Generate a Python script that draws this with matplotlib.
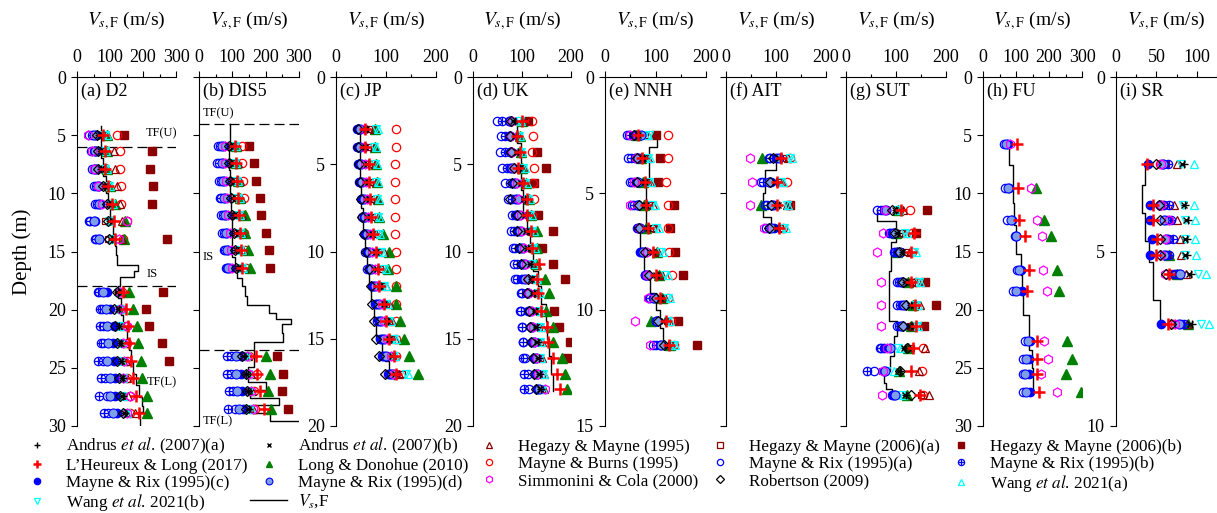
import numpy as np
import matplotlib
matplotlib.use("Agg")
import matplotlib.pyplot as plt
from matplotlib.lines import Line2D
from matplotlib.path import Path
from matplotlib.ticker import MultipleLocator, NullFormatter

plt.rcParams["font.family"] = ["Liberation Serif", "DejaVu Serif"]
plt.rcParams["mathtext.fontset"] = "stix"

nan = np.nan

# column order of every *_VS table below
COLS = ["RixA", "RixB", "RixC", "RixD", "Sim", "Rob", "AndA", "AndB",
        "Heg95", "Heg06a", "Heg06b", "LH", "Long", "Burns", "WangA", "WangB"]

LABELS = {
    "AndA": r"Andrus $\mathit{et\ al}$. (2007)(a)",
    "AndB": r"Andrus $\mathit{et\ al}$. (2007)(b)",
    "Heg95": "Hegazy & Mayne (1995)",
    "Heg06a": "Hegazy & Mayne (2006)(a)",
    "Heg06b": "Hegazy & Mayne (2006)(b)",
    "LH": "L\u2019Heureux & Long (2017)",
    "Long": "Long & Donohue (2010)",
    "Burns": "Mayne & Burns (1995)",
    "RixA": "Mayne & Rix (1995)(a)",
    "RixB": "Mayne & Rix (1995)(b)",
    "RixC": "Mayne & Rix (1995)(c)",
    "RixD": "Mayne & Rix (1995)(d)",
    "Sim": "Simmonini & Cola (2000)",
    "Rob": "Robertson (2009)",
    "WangA": r"Wang $\mathit{et\ al}$. 2021(a)",
    "WangB": r"Wang $\mathit{et\ al}$. 2021(b)",
}

# ---------------- (a) D2 ----------------
D2_DEPTH = [5.0, 6.4, 7.9, 9.4, 10.9, 12.4, 13.9, 18.5, 19.9, 21.4, 22.9, 24.4, 25.9, 27.4, 28.9]
D2_VS = [
    [37, 45, 58, 52, 34, 62, 68, 65, 88, 75, 141, 80, 90, 122, 92, 85],
    [42, 50, 58, 55, 44, 65, 72, 70, 113, 80, 228, 85, 90, 131, 88, 84],
    [44, 52, 58, 56, 50, 65, 74, 72, 114, 82, 222, 86, 92, 130, 90, 86],
    [50, 58, 66, 63, 65, 78, 86, 84, 122, 90, 231, 95, 100, 132, 100, 96],
    [55, 62, 70, 67, 75, 90, 98, 96, 130, 100, 228, 105, 115, 133, 108, 104],
    [36, 38, 55, 50, 150, 95, 100, 98, 135, 85, nan, 112, 145, 152, 100, 98],
    [55, 58, 68, 66, 128, 98, 105, 100, 135, 95, 272, 115, 142, 138, 110, 108],
    [68, 64, 92, 80, 130, 120, 125, 122, 132, 125, 262, 140, 159, 135, 128, 126],
    [75, 70, 100, 88, 130, 112, 128, 125, 135, 128, 208, 148, 171, 135, 132, 130],
    [78, 70, 112, 92, 150, 115, 128, 126, 140, 130, 218, 155, 181, 148, 130, 128],
    [80, 72, 108, 95, 140, 122, 132, 130, 145, 135, 259, 158, 184, 150, 135, 133],
    [80, 65, 112, 92, 142, 120, 135, 132, 148, 138, 280, 164, 193, 150, 136, 134],
    [85, 72, 115, 100, 140, 128, 138, 135, 150, 140, nan, 169, 196, 152, 140, 138],
    [90, 66, 115, 100, 162, 130, 138, 136, 155, 140, nan, 179, 213, 160, 138, 136],
    [95, 82, 122, 108, 150, 138, 145, 142, 175, 148, nan, 189, 211, 162, 150, 148],
]
D2_LAYER_Z = [4.2, 5.5, 7.0, 8.5, 10.0, 10.6, 12.0, 13.5, 14.5, 15.3, 16.2, 16.7, 17.2,
              18.0, 19.0, 20.5, 21.5, 22.5, 23.5, 24.5, 25.5, 26.5, 27.5, 28.3, 28.8, 30.0]
D2_LAYER_V = [72, 72, 80, 88, 95, 100, 108, 115, 118, 122, 184, 173, 130,
              125, 132, 140, 150, 158, 165, 170, 178, 188, 196, 199, 191]

# ---------------- (b) DIS5 ----------------
DIS5_DEPTH = [5.9, 7.4, 8.9, 10.4, 11.9, 13.4, 14.9, 16.4, 24.0, 25.5, 27.0, 28.5]
DIS5_VS = [
    [57, 62, 75, 70, 78, 90, 95, 93, 115, 100, 149, 108, 110, 128, 112, 108],
    [55, 60, 72, 68, 78, 90, 95, 93, 118, 102, 164, 110, 112, 128, 112, 108],
    [60, 65, 76, 72, 82, 93, 98, 96, 122, 106, 170, 114, 118, 132, 118, 114],
    [62, 67, 78, 74, 84, 96, 102, 100, 126, 110, 182, 118, 122, 135, 122, 118],
    [67, 72, 82, 78, 88, 100, 106, 104, 128, 112, 185, 120, 137, 132, 124, 120],
    [70, 74, 85, 80, 92, 105, 110, 108, 130, 115, 202, 122, 138, 135, 126, 122],
    [74, 78, 88, 84, 95, 108, 112, 110, 132, 118, 209, 125, 147, 138, 128, 124],
    [80, 84, 92, 88, 100, 112, 118, 116, 135, 122, 212, 130, 152, 140, 132, 128],
    [95, 84, 125, 110, 145, 130, 135, 133, 148, 138, 235, 170, 200, 150, 142, 140],
    [97, 84, 125, 112, 150, 140, 142, 140, 155, 145, 253, 174, 212, 174, 148, 146],
    [102, 90, 130, 115, 155, 145, 148, 146, 160, 150, 250, 184, 208, 165, 152, 150],
    [108, 88, 132, 120, 162, 142, 150, 148, 162, 152, 266, 194, 217, 168, 155, 153],
]
DIS5_LAYER_Z = [4.0, 6.0, 8.0, 10.0, 12.0, 14.0, 15.5, 16.5, 17.3, 18.0, 18.8, 19.6, 20.3,
                20.8, 21.2, 22.0, 22.8, 24.9, 26.2, 26.9, 27.6, 28.2, 28.9, 29.6, 30.0]
DIS5_LAYER_V = [92, 90, 92, 95, 98, 100, 108, 115, 128, 137, 145, 210, 232,
                275, 248, 253, 165, 147, 202, 152, 240, 162, 214, 330]

# ---------------- (c) JP ----------------
JP_DEPTH = [3, 4, 5, 6, 7, 8, 9, 10, 11, 12, 13, 14, 15, 16, 17]
JP_VS = [
    [42, 44, 44, 48, 55, 44, 62, 60, 75, 65, nan, 58, 78, 119, 83, 80],
    [42, 44, 45, 48, 55, 44, 60, 58, 76, 63, nan, 58, 78, 119, 80, 76],
    [44, 46, 46, 50, 58, 46, 63, 61, 78, 66, nan, 65, 80, 118, 82, 78],
    [46, 48, 48, 52, 60, 48, 65, 63, 80, 68, nan, 65, 82, 118, 84, 80],
    [50, 52, 52, 56, 62, 50, 67, 65, 82, 70, nan, 67, 84, 118, 85, 82],
    [52, 55, 55, 58, 64, 52, 70, 68, 84, 72, nan, 69, 86, 118, 86, 83],
    [55, 58, 58, 62, 68, 56, 75, 72, 88, 76, nan, 73, 93, 118, 88, 86],
    [58, 62, 62, 66, 72, 60, 82, 80, 95, 84, nan, 80, 106, 119, 92, 90],
    [62, 65, 66, 70, 78, 66, 84, 82, 100, 88, nan, 83, 104, 119, 100, 95],
    [72, 74, 74, 78, 82, 69, 90, 88, 100, 92, nan, 85, 120, 119, 100, 96],
    [78, 80, 82, 86, 92, 72, 98, 96, 105, 100, nan, 95, 120, 119, 104, 100],
    [82, 85, 86, 90, 96, 75, 104, 102, 112, 105, nan, 100, 127, 119, 110, 106],
    [88, 90, 92, 96, 102, 80, 108, 106, 118, 112, nan, 105, 136, 119, 120, 116],
    [92, 94, 96, 100, 110, 86, 115, 112, 118, 114, nan, 116, 145, 119, 118, 115],
    [104, 106, 108, 112, 116, 98, 120, 118, 125, 131, nan, 119, 163, 119, 143, 140],
]
JP_LAYER_Z = [3.0, 6.3, 7.5, 9.0, 10.0, 11.0, 12.0, 13.0, 14.0, 15.0, 15.8, 16.3, 16.8, 17.3]
JP_LAYER_V = [47, 50, 53, 58, 61, 66, 70, 75, 80, 91, 98, 105, 115]

# ---------------- (d) UK ----------------
UK_DEPTH = [2.5, 3.4, 4.3, 5.2, 6.1, 7.0, 7.9, 8.8, 9.8, 10.7, 11.6, 12.4, 13.4, 14.3, 15.2, 16.1, 17.0, 17.9]
UK_VS = [
    [50, 60, 73, 76, 80, 78, 85, 82, 105, 110, 112, 100, 100, 120, 98, 95],
    [57, 65, 73, 76, 78, 75, 88, 85, 96, 92, nan, 90, 96, 122, 96, 94],
    [56, 66, 75, 78, 80, 78, 92, 90, 100, 95, 131, 95, 98, 120, 100, 98],
    [59, 70, 76, 80, 84, 83, 96, 94, 104, 98, 149, 92, 100, 124, 106, 102],
    [66, 75, 83, 86, 90, 80, 100, 98, 108, 102, 124, 102, 108, 122, 110, 106],
    [71, 80, 86, 90, 94, 75, 106, 104, 112, 108, nan, 110, 114, 124, 116, 112],
    [80, 86, 88, 94, 98, 90, 108, 106, 118, 112, 132, 110, 118, 120, 120, 116],
    [78, 84, 90, 96, 100, 90, 110, 108, 120, 115, 163, 118, 130, nan, 124, 120],
    [82, 86, 96, 100, 104, 93, 112, 110, 122, 118, 141, 120, 130, nan, 126, 122],
    [83, 90, 100, 104, 108, 97, 118, 116, 124, 120, 163, 134, 128, nan, 124, 120],
    [86, 90, 100, 106, 112, 112, 120, 118, 126, 124, 188, 130, 146, nan, 130, 127],
    [97, 100, 110, 112, 115, 110, 125, 122, 132, 128, nan, 132, 156, nan, 136, 132],
    [96, 97, 112, 116, 120, 114, 128, 126, 136, 132, 165, 138, 148, nan, 136, 134],
    [100, 100, 120, 118, 122, 117, 130, 128, 140, 135, 175, 150, 163, nan, 139, 137],
    [102, 102, 120, 124, 126, 119, 132, 130, 140, 136, 197, 154, 164, nan, 138, 136],
    [106, 103, 124, 128, 130, 122, 135, 133, 140, 137, 192, 163, 182, nan, 139, 137],
    [112, 105, 126, 130, 132, 124, 137, 135, 145, 140, nan, 171, 188, nan, 144, 142],
    [114, 105, 130, 134, 146, 128, 138, 136, 145, 140, nan, 177, 192, nan, 142, 140],
]
UK_LAYER_Z = [2.5, 3.8, 6.5, 8.0, 9.0, 10.0, 11.1, 12.0, 13.0, 14.0, 15.0, 16.0, 17.0, 18.0]
UK_LAYER_V = [90, 97, 103, 110, 117, 122, 133, 138, 148, 152, 156, 160, 164]

# ---------------- (e) NNH ----------------
NNH_DEPTH = [2.5, 3.5, 4.5, 5.5, 6.5, 7.5, 8.5, 9.5, 10.5, 11.5]
NNH_VS = [
    [43, 48, 57, 72, 50, 58, 68, 66, 85, 80, 101, 66, 62, 124, 85, 88],
    [45, 52, 60, 66, 62, 64, 78, 75, 85, 82, 109, 73, 72, 124, 90, 86],
    [50, 54, 62, 65, 57, 64, 82, 80, 90, 85, 104, 79, 75, 121, 92, 88],
    [53, 58, 64, 66, 50, 68, 84, 82, 96, 88, 137, 81, 78, 124, 99, 94],
    [64, 66, 66, 70, 68, 68, 88, 86, 100, 95, 128, 86, 82, 124, 106, 100],
    [72, 74, 70, 76, 84, 80, 96, 94, 105, 100, 139, 95, 103, 126, 115, 110],
    [80, 82, 80, 84, 84, 88, 102, 100, 112, 108, 154, 101, 107, 132, 124, 118],
    [88, 90, 96, 98, 86, 100, 110, 108, 118, 115, nan, 109, 112, 125, 128, 124],
    [100, 102, 100, 102, 60, 104, 118, 116, 126, 122, 144, 121, 91, 130, 128, 125],
    [95, 100, 108, 110, 89, 117, 124, 122, 132, 130, 182, 126, 129, 136, 139, 136],
]
NNH_LAYER_Z = [2.5, 3.0, 4.6, 6.4, 7.6, 8.7, 9.3, 10.0, 10.8, 11.5]
NNH_LAYER_V = [103, 88, 81, 70, 77, 89, 101, 109, 115]

# ---------------- (f) AIT ----------------
AIT_DEPTH = [3.5, 4.5, 5.5, 6.5]
AIT_VS = [
    [85, 88, 100, 105, 47, 94, 108, 106, 125, 115, nan, 110, 72, 128, 132, 128],
    [70, 74, 90, 86, 52, 88, 100, 98, 112, 106, nan, 102, nan, 123, 114, 110],
    [78, 82, 96, 92, 47, 89, 106, 104, 122, 126, 129, 101, 69, 126, 125, 122],
    [80, 85, 95, 90, 75, 85, 104, 102, 112, 108, nan, 105, nan, 115, 121, 117],
]
AIT_LAYER_Z = [3.5, 4.0, 5.0, 6.0, 6.6]
AIT_LAYER_V = [99, 78, 74, 89]

# ---------------- (g) SUT ----------------
SUT_DEPTH = [11.4, 13.4, 15.0, 17.6, 19.6, 21.4, 23.3, 25.3, 27.3]
SUT_VS = [
    [62, 70, 76, 80, 78, 92, 100, 98, 115, 108, 163, 110, 104, 128, 106, 104],
    [85, 88, 92, 96, 74, 98, 104, 102, 118, 112, 140, 136, 100, 132, 122, 118],
    [95, 98, 102, 108, 62, 105, 115, 112, 128, 122, nan, 131, 101, 132, 140, 136],
    [102, 106, 110, 112, 70, 114, 120, 118, 140, 132, 158, 131, 125, 140, 148, 146],
    [102, 108, 112, 116, 70, 121, 130, 128, 148, 140, 180, 138, 135, 138, 145, 140],
    [102, 105, 110, 112, 70, 115, 130, 128, 132, 128, 157, 140, 130, 132, 145, 142],
    [67, 70, 75, 88, 82, 123, 118, 116, 158, 130, nan, 135, 125, 155, 108, 104],
    [55, 42, 76, 78, 74, 108, 108, 106, 146, 72, nan, 131, 105, 153, 95, 80],
    [92, 94, 96, 98, 72, 131, 120, 118, 166, 150, nan, 149, 123, 155, 114, 112],
]
SUT_LAYER_Z = [11.4, 12.4, 14.2, 16.7, 21.0, 22.3, 24.0, 25.3, 26.3, 26.8, 27.4]
SUT_LAYER_V = [62, 100, 90, 86, 102, 95, 88, 75, 80, 92]

# ---------------- (h) FU ----------------
FU_DEPTH = [5.8, 9.5, 12.3, 13.7, 16.6, 18.4, 22.7, 24.2, 25.5, 27.1]
FU_VS = [
    [64, nan, 77, 70, 82, nan, nan, nan, nan, nan, nan, 104, nan, nan, nan, nan],
    [67, nan, 80, 76, 145, nan, nan, nan, nan, nan, nan, 107, 162, nan, nan, nan],
    [74, nan, 87, 84, 164, nan, nan, nan, nan, nan, nan, 110, 185, nan, nan, nan],
    [96, nan, 100, 99, 178, nan, nan, nan, nan, nan, nan, 127, 205, nan, nan, nan],
    [102, nan, 114, 108, 181, nan, nan, nan, nan, nan, nan, 139, 223, nan, nan, nan],
    [92, nan, 117, 100, 193, nan, nan, nan, nan, nan, nan, 134, 231, nan, nan, nan],
    [127, nan, 142, 135, 186, nan, nan, nan, nan, nan, nan, 164, 255, nan, nan, nan],
    [122, nan, 140, 130, 198, nan, nan, nan, nan, nan, nan, 164, 270, nan, nan, nan],
    [120, nan, 140, 128, 176, nan, nan, nan, nan, nan, nan, 164, 253, nan, nan, nan],
    [120, nan, 142, 130, 223, nan, nan, nan, nan, nan, nan, 170, 296, nan, nan, nan],
]
FU_LAYER_Z = [5.8, 7.6, 10.8, 12.7, 15.2, 17.0, 18.7, 20.5, 23.5, 25.0, 27.2]
FU_LAYER_V = [79, 92, 95, 100, 114, 117, 120, 140, 147, 152]

# ---------------- (i) SR ----------------
SR_DEPTH = [2.48, 3.68, 4.10, 4.65, 5.10, 5.65, 7.08]
SR_VS = [
    [58, 64, 40, 58, 56, 49, 84, 82, 76, 62, nan, 38, nan, 55, 96, 81],
    [60, 66, 42, 55, 56, 53, 85, 84, 72, 60, nan, 46, nan, 58, 96, 83],
    [62, 68, 42, 60, 66, 54, 89, 87, 75, 65, nan, 46, nan, 64, 98, 86],
    [64, 70, 45, 62, 61, 55, 88, 86, 79, 66, nan, 51, nan, 64, 98, 85],
    [62, 66, 42, 60, 56, 55, 88, 86, 80, 64, nan, 50, 66, 62, 99, 85],
    [72, 74, 78, 79, 61, 62, 93, 90, 87, 72, nan, 66, 76, 68, 112, 102],
    [80, 84, 56, 78, 73, 68, 94, 92, 88, 75, nan, 64, 89, 70, 115, 105],
]
SR_LAYER_Z = [2.5, 3.1, 3.9, 4.7, 5.3, 6.4, 7.1]
SR_LAYER_V = [36, 32, 36, 41, 46, 55]

# ---------------- styles ----------------
circle_plus = Path.make_compound_path(
    Path.unit_circle(),
    Path([[-1, 0], [1, 0]], [Path.MOVETO, Path.LINETO]),
    Path([[0, -1], [0, 1]], [Path.MOVETO, Path.LINETO]),
)
DRED = "#8B0000"
STYLE = {
    "AndA": dict(marker="+", color="black", ms=6, mew=1.0),
    "AndB": dict(marker="x", color="black", ms=4.5, mew=1.0),
    "Heg95": dict(marker="^", mfc="none", mec=DRED, ms=5.5, mew=0.9),
    "Heg06a": dict(marker="s", mfc="none", mec=DRED, ms=5, mew=0.9),
    "Heg06b": dict(marker="s", mfc=DRED, mec=DRED, ms=5.5),
    "LH": dict(marker="+", color="red", ms=8, mew=1.8),
    "Long": dict(marker="^", mfc="#008000", mec="#008000", ms=6.5),
    "Burns": dict(marker="o", mfc="none", mec="red", ms=6, mew=0.9),
    "RixA": dict(marker="o", mfc="none", mec="blue", ms=6, mew=0.9),
    "RixB": dict(marker=circle_plus, mfc="none", mec="blue", ms=6, mew=0.9),
    "RixC": dict(marker="o", mfc="blue", mec="blue", ms=6),
    "RixD": dict(marker="o", mfc="#7f9ee8", mec="blue", ms=6.5, mew=0.8),
    "Sim": dict(marker="h", mfc="none", mec="magenta", ms=6.5, mew=0.9),
    "Rob": dict(marker="D", mfc="none", mec="black", ms=5, mew=0.9),
    "WangA": dict(marker="^", mfc="none", mec="cyan", ms=6, mew=0.9),
    "WangB": dict(marker="v", mfc="none", mec="cyan", ms=6, mew=0.9),
}
DRAW_ORDER = ["Heg06b", "Burns", "Long", "Heg95", "Heg06a", "WangA", "WangB", "RixA", "RixB",
              "RixC", "RixD", "Sim", "Rob", "AndA", "AndB", "LH"]

# panel name, depth, table, layers, x max, x step, depth max, depth step, y labels, left px, width px
PANELS = [
    ("(a) D2", D2_DEPTH, D2_VS, D2_LAYER_Z, D2_LAYER_V, 300, 100, 30, 5, True, 77, 99),
    ("(b) DIS5", DIS5_DEPTH, DIS5_VS, DIS5_LAYER_Z, DIS5_LAYER_V, 300, 100, 30, 5, False, 199, 100),
    ("(c) JP", JP_DEPTH, JP_VS, JP_LAYER_Z, JP_LAYER_V, 200, 100, 20, 5, True, 336, 100),
    ("(d) UK", UK_DEPTH, UK_VS, UK_LAYER_Z, UK_LAYER_V, 200, 100, 20, 5, True, 473, 98),
    ("(e) NNH", NNH_DEPTH, NNH_VS, NNH_LAYER_Z, NNH_LAYER_V, 200, 100, 15, 5, True, 605, 101),
    ("(f) AIT", AIT_DEPTH, AIT_VS, AIT_LAYER_Z, AIT_LAYER_V, 200, 100, 15, 5, False, 726, 100),
    ("(g) SUT", SUT_DEPTH, SUT_VS, SUT_LAYER_Z, SUT_LAYER_V, 200, 100, 30, 10, False, 846, 100),
    ("(h) FU", FU_DEPTH, FU_VS, FU_LAYER_Z, FU_LAYER_V, 300, 100, 30, 5, True, 983, 99),
    ("(i) SR", SR_DEPTH, SR_VS, SR_LAYER_Z, SR_LAYER_V, 125, 50, 10, 5, True, 1116, 101),
]

W, H = 1217, 513
fig = plt.figure(figsize=(W / 100, H / 100), dpi=100)

for (name, depth, table, lz, lv, xmax, xstep, zmax, zstep, ylab, left, width) in PANELS:
    ax = fig.add_axes([left / W, 1 - 426 / H, width / W, 349 / H])
    tab = np.array(table, dtype=float)
    for key in DRAW_ORDER:
        col = COLS.index(key)
        ax.plot(tab[:, col], depth, ls="none", zorder=3 if key != "LH" else 4, **STYLE[key])
    zz = np.repeat(lz, 2)[1:-1]
    vv = np.repeat(lv, 2)
    ax.plot(vv, zz, color="black", lw=1.0, zorder=2)

    ax.set_xlim(0, xmax)
    ax.set_ylim(zmax, 0)
    for s in ["right", "bottom"]:
        ax.spines[s].set_visible(False)
    ax.xaxis.tick_top()
    ax.xaxis.set_label_position("top")
    ax.xaxis.set_major_locator(MultipleLocator(xstep))
    ax.xaxis.set_minor_locator(MultipleLocator(xstep / 2))
    ax.yaxis.set_major_locator(MultipleLocator(zstep))
    ax.tick_params(which="major", direction="out", length=4, width=0.8, pad=4, labelsize=13)
    ax.tick_params(which="minor", direction="out", length=2, width=0.8)
    if not ylab:
        ax.yaxis.set_major_formatter(NullFormatter())
    ax.set_xlabel(r"$V_{s,\mathrm{F}}$ (m/s)", fontsize=14, labelpad=17)
    ax.text(0.04, 0.985, name, transform=ax.transAxes, ha="left", va="top", fontsize=13)

    if name == "(a) D2":
        ax.set_ylabel("Depth (m)", fontsize=15, labelpad=11)
        for z in [6.0, 18.0]:
            ax.axhline(z, color="black", lw=0.9, dashes=(8, 4))
        ax.text(305, 4.8, "TF(U)", ha="right", va="center", fontsize=9)
        ax.text(210, 16.9, "IS", ha="left", va="center", fontsize=9)
        ax.text(210, 26.2, "TF(L)", ha="left", va="center", fontsize=9)
    if name == "(b) DIS5":
        for z in [4.0, 23.5]:
            ax.axhline(z, color="black", lw=0.9, dashes=(8, 4))
        ax.text(12, 3.1, "TF(U)", ha="left", va="center", fontsize=9)
        ax.text(12, 15.5, "IS", ha="left", va="center", fontsize=9)
        ax.text(12, 29.6, "TF(L)", ha="left", va="center", fontsize=9)

# legend, laid out row by row as in the figure
ROW_ORDER = ["AndA", "AndB", "Heg95", "Heg06a", "Heg06b",
             "LH", "Long", "Burns", "RixA", "RixB",
             "RixC", "RixD", "Sim", "Rob", "WangA",
             "WangB", "VsF"]
handles = {k: Line2D([], [], ls="none", **STYLE[k]) for k in STYLE}
handles["VsF"] = Line2D([], [], color="black", lw=1.0)
LABELS["VsF"] = r"$V_s$,F"
ncol = 5
col_major = []
for c in range(ncol):
    r = 0
    while r * ncol + c < len(ROW_ORDER):
        col_major.append(ROW_ORDER[r * ncol + c])
        r += 1
fig.legend([handles[k] for k in col_major], [LABELS[k] for k in col_major],
           loc="upper left", bbox_to_anchor=(18 / W, 1 - 436 / H), ncol=ncol,
           frameon=False, fontsize=12.3, handlelength=2.2, handletextpad=0.6,
           columnspacing=0.15, labelspacing=0.08, borderpad=0, borderaxespad=0,
           markerscale=0.75)

fig.savefig("out.png", dpi=100)
